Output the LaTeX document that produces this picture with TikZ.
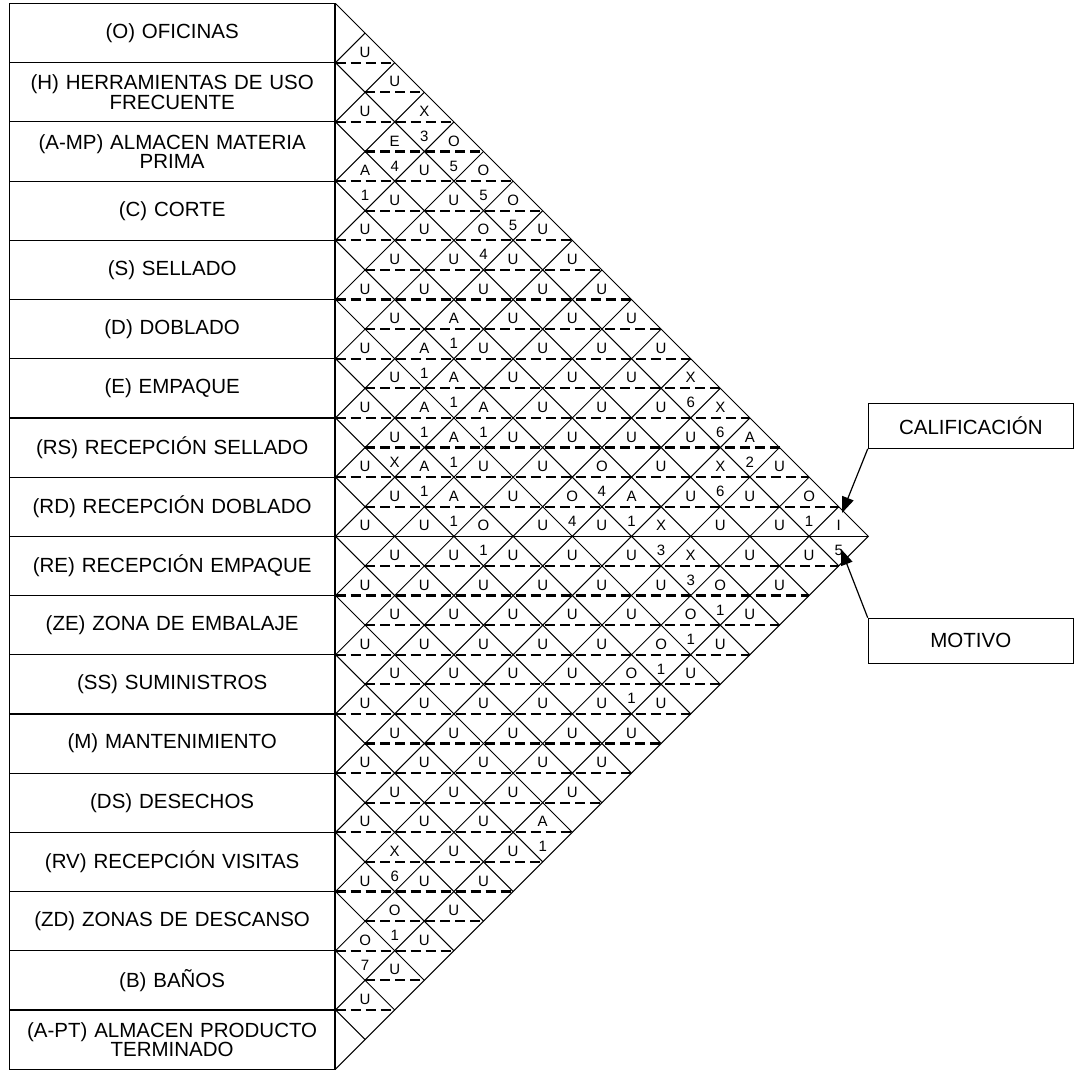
\documentclass[tikz,border=0pt]{standalone}
\usepackage{fontspec}
\setmainfont{Liberation Sans}
\usetikzlibrary{arrows.meta}
\begin{document}
\begin{tikzpicture}[x=1pt,y=-1pt,
  dept/.style={draw,line width=1.2pt,minimum width=325.5pt,minimum height=59.2pt,
    inner sep=0pt,align=center,text width=322pt,font=\fontsize{20.5}{19.5}\selectfont},
  gridline/.style={line width=1pt},
  midline/.style={line width=2.2pt,dash pattern=on 10pt off 5pt},
  rate/.style={inner sep=0pt,font=\fontsize{15}{15}\selectfont},
  legendbox/.style={draw,line width=1.2pt,minimum width=205pt,minimum height=45pt,
    inner sep=0pt,font=\fontsize{20.5}{20.5}\selectfont},
  pointer/.style={line width=1.2pt,-{Triangle[length=16pt,width=12pt]}}]
\useasboundingbox (0,0) rectangle (1078,1070);
% grid geometry: left edge of the chart, top, row height, half row
\def\Xo{335.5}\def\Yo{3.5}\def\hh{59.2}\def\ss{29.6}

% dashed mid-lines of the diamonds (solid at the central level)
\foreach \m in {2,...,34}{
  \pgfmathsetmacro\xa{\Xo+mod(\m,2)*\ss}
  \pgfmathsetmacro\xb{\Xo+min(\m,36-\m)*\ss}
  \ifnum\m=18
    \draw[gridline] (\xa,\Yo+\m*\ss) -- (\xb,\Yo+\m*\ss);
  \else
    \draw[midline] (\xa,\Yo+\m*\ss) -- (\xb,\Yo+\m*\ss);
  \fi
}

% diagonal lattice
\foreach \k in {1,...,17}{
  \draw[gridline] (\Xo,\Yo+\k*\hh) -- ++({(18-\k)*\ss},{(18-\k)*\ss});
  \draw[gridline] (\Xo,\Yo+\k*\hh) -- ++({\k*\ss},{-\k*\ss});
}
\coordinate (top) at (\Xo,\Yo);
\coordinate (apex) at (\Xo+9*\hh,\Yo+9*\hh);
\coordinate (bottom) at (\Xo,\Yo+18*\hh);
\draw[gridline] (top) -- (apex) -- (bottom);

% closeness ratings (letter) and reasons (number)
\foreach \m/\d/\l/\n in {
  2/1/U/{},
  3/2/U/{},
  4/1/U/{}, 4/3/X/3,
  5/2/E/4, 5/4/O/5,
  6/1/A/1, 6/3/U/{}, 6/5/O/5,
  7/2/U/{}, 7/4/U/{}, 7/6/O/5,
  8/1/U/{}, 8/3/U/{}, 8/5/O/4, 8/7/U/{},
  9/2/U/{}, 9/4/U/{}, 9/6/U/{}, 9/8/U/{},
  10/1/U/{}, 10/3/U/{}, 10/5/U/{}, 10/7/U/{}, 10/9/U/{},
  11/2/U/{}, 11/4/A/1, 11/6/U/{}, 11/8/U/{}, 11/10/U/{},
  12/1/U/{}, 12/3/A/1, 12/5/U/{}, 12/7/U/{}, 12/9/U/{}, 12/11/U/{},
  13/2/U/{}, 13/4/A/1, 13/6/U/{}, 13/8/U/{}, 13/10/U/{}, 13/12/X/6,
  14/1/U/{}, 14/3/A/1, 14/5/A/1, 14/7/U/{}, 14/9/U/{}, 14/11/U/{}, 14/13/X/6,
  15/2/U/X, 15/4/A/1, 15/6/U/{}, 15/8/U/{}, 15/10/U/{}, 15/12/U/{}, 15/14/A/2,
  16/1/U/{}, 16/3/A/1, 16/5/U/{}, 16/7/U/{}, 16/9/O/4, 16/11/U/{}, 16/13/X/6, 16/15/U/{},
  17/2/U/{}, 17/4/A/1, 17/6/U/{}, 17/8/O/4, 17/10/A/1, 17/12/U/{}, 17/14/U/{}, 17/16/O/1,
  18/1/U/{}, 18/3/U/{}, 18/5/O/1, 18/7/U/{}, 18/9/U/{}, 18/11/X/3, 18/13/U/{}, 18/15/U/{}, 18/17/I/5,
  19/2/U/{}, 19/4/U/{}, 19/6/U/{}, 19/8/U/{}, 19/10/U/{}, 19/12/X/3, 19/14/U/{}, 19/16/U/{},
  20/1/U/{}, 20/3/U/{}, 20/5/U/{}, 20/7/U/{}, 20/9/U/{}, 20/11/U/{}, 20/13/O/1, 20/15/U/{},
  21/2/U/{}, 21/4/U/{}, 21/6/U/{}, 21/8/U/{}, 21/10/U/{}, 21/12/O/1, 21/14/U/{},
  22/1/U/{}, 22/3/U/{}, 22/5/U/{}, 22/7/U/{}, 22/9/U/{}, 22/11/O/1, 22/13/U/{},
  23/2/U/{}, 23/4/U/{}, 23/6/U/{}, 23/8/U/{}, 23/10/O/1, 23/12/U/{},
  24/1/U/{}, 24/3/U/{}, 24/5/U/{}, 24/7/U/{}, 24/9/U/{}, 24/11/U/{},
  25/2/U/{}, 25/4/U/{}, 25/6/U/{}, 25/8/U/{}, 25/10/U/{},
  26/1/U/{}, 26/3/U/{}, 26/5/U/{}, 26/7/U/{}, 26/9/U/{},
  27/2/U/{}, 27/4/U/{}, 27/6/U/{}, 27/8/U/{},
  28/1/U/{}, 28/3/U/{}, 28/5/U/{}, 28/7/A/1,
  29/2/X/6, 29/4/U/{}, 29/6/U/{},
  30/1/U/{}, 30/3/U/{}, 30/5/U/{},
  31/2/O/1, 31/4/U/{},
  32/1/O/7, 32/3/U/{},
  33/2/U/{},
  34/1/U/{}}{
  \node[rate] (L\m-\d) at (\Xo+\d*\ss,\Yo+\m*\ss-10.5) {\l};
  \node[rate] (N\m-\d) at (\Xo+\d*\ss,\Yo+\m*\ss+14.5) {\n};
}

% departments
\foreach \lab [count=\k from 0] in {
  {(O) OFICINAS},
  {(H) HERRAMIENTAS DE USO\\FRECUENTE},
  {(A-MP) ALMACEN MATERIA\\PRIMA},
  {(C) CORTE},
  {(S) SELLADO},
  {(D) DOBLADO},
  {(E) EMPAQUE},
  {(RS) RECEPCIÓN SELLADO},
  {(RD) RECEPCIÓN DOBLADO},
  {(RE) RECEPCIÓN EMPAQUE},
  {(ZE) ZONA DE EMBALAJE},
  {(SS) SUMINISTROS},
  {(M) MANTENIMIENTO},
  {(DS) DESECHOS},
  {(RV) RECEPCIÓN VISITAS},
  {(ZD) ZONAS DE DESCANSO},
  {(B) BAÑOS},
  {(A-PT) ALMACEN PRODUCTO\\TERMINADO}}{
  \node[dept,anchor=east] (dep\k) at (\Xo,\Yo+\k*\hh+\ss) {\lab};
}

% legend
\node[legendbox] (cal) at (970.8,425.8) {CALIFICACIÓN};
\node[legendbox] (mot) at (970.8,640.8) {MOTIVO};
\coordinate (calTip) at (842,513);
\coordinate (motTip) at (841,549);
\draw[pointer] (cal.south west) -- (calTip);
\draw[pointer] (mot.north west) -- (motTip);
\end{tikzpicture}
\end{document}
